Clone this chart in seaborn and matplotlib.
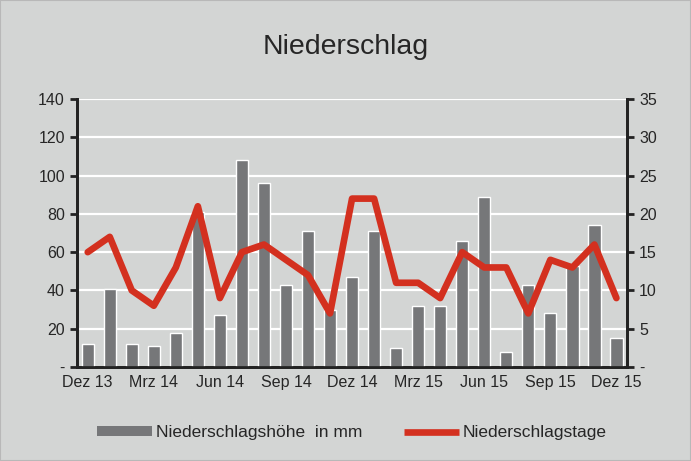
import numpy as np
import pandas as pd
import matplotlib
matplotlib.use('Agg')
import matplotlib.pyplot as plt
import seaborn as sns
from matplotlib.patches import Patch
from matplotlib.lines import Line2D

# Monate Dez 13 .. Dez 15
monate = ['Dez 13', 'Jan 14', 'Feb 14', 'Mrz 14', 'Apr 14', 'Mai 14', 'Jun 14', 'Jul 14',
          'Aug 14', 'Sep 14', 'Okt 14', 'Nov 14', 'Dez 14', 'Jan 15', 'Feb 15', 'Mrz 15',
          'Apr 15', 'Mai 15', 'Jun 15', 'Jul 15', 'Aug 15', 'Sep 15', 'Okt 15', 'Nov 15', 'Dez 15']
hoehe_mm = [12, 41, 12, 11, 18, 81, 27, 108, 96, 43, 71, 30, 47, 71, 10, 32,
            32, 66, 89, 8, 43, 28, 53, 74, 15]
tage = [15, 17, 10, 8, 13, 21, 9, 15, 16, 14, 12, 7, 22, 22, 11, 11,
        9, 15, 13, 13, 7, 14, 13, 16, 9]

bg = '#d3d5d4'
bar_col = '#767779'
line_col = '#d3301f'

data = pd.DataFrame({'Monat': monate, 'Hoehe': hoehe_mm, 'Tage': tage})
data['pos'] = np.arange(len(data))

sns.set_style('white')
plt.rcParams['font.family'] = ['Liberation Sans', 'DejaVu Sans']

fig = plt.figure(figsize=(6.91, 4.61), dpi=100, facecolor=bg)
ax = fig.add_axes([0.111, 0.204, 0.797, 0.581])
ax.set_facecolor(bg)

# Balken
sns.barplot(data=data, x='Monat', y='Hoehe', color=bar_col, saturation=1, width=0.56, ax=ax, zorder=3)
ax.set_ylim(0, 140)
ax.set_xlim(-0.5, len(monate) - 0.5)
ax.set_yticks(range(0, 141, 20))
ax.set_yticklabels(['-'] + [str(v) for v in range(20, 141, 20)])
for y in range(20, 141, 20):
    ax.axhline(y, color='white', lw=1.6, zorder=1)

# Linie auf rechter Achse
ax2 = ax.twinx()
sns.lineplot(data=data, x='pos', y='Tage', color=line_col, lw=4.8, ax=ax2, zorder=4,
             solid_joinstyle='round', solid_capstyle='round')
ax2.set_ylim(0, 35)
ax2.set_yticks(range(0, 36, 5))
ax2.set_yticklabels(['-'] + [str(v) for v in range(5, 36, 5)])
ax2.set_xlim(-0.5, len(monate) - 0.5)

# X-Achse: Beschriftung alle 3 Monate, Striche an den Kategoriegrenzen
ax.set_xticks(range(0, len(monate), 3))
ax.set_xticklabels(monate[::3])
ax.set_xticks(np.arange(-0.5, len(monate), 3), minor=True)
ax.tick_params(axis='x', which='major', length=0, labelsize=11.5, pad=6)
ax.tick_params(axis='x', which='minor', length=5, width=2, color='#222222', direction='out')
ax.tick_params(axis='y', length=5, width=2, color='#222222', labelsize=11.5, direction='out')
ax2.tick_params(axis='y', length=5, width=2, color='#222222', labelsize=11.5, direction='out')

for a in (ax, ax2):
    a.set_xlabel('')
    a.set_ylabel('')
    a.spines['top'].set_visible(False)
    for s in ('left', 'right', 'bottom'):
        a.spines[s].set_color('#222222')
        a.spines[s].set_linewidth(2)

fig.text(0.5, 0.898, 'Niederschlag', fontsize=20.5, ha='center', va='center')

handles = [Patch(facecolor=bar_col, edgecolor='none'),
           Line2D([0], [0], color=line_col, lw=4.8, solid_capstyle='butt')]
fig.legend(handles, ['Niederschlagshöhe  in mm', 'Niederschlagstage'],
           loc='center', bbox_to_anchor=(0.509, 0.061), ncol=2, frameon=False,
           fontsize=12.5, handlelength=3.2, handleheight=0.5, handletextpad=0.2, columnspacing=2.4)

fig.patches.append(plt.Rectangle((0, 0), 1, 1, transform=fig.transFigure, fill=False,
                                 edgecolor='#b8b8b8', lw=1.5))

plt.savefig('out.png', dpi=100, facecolor=bg)
